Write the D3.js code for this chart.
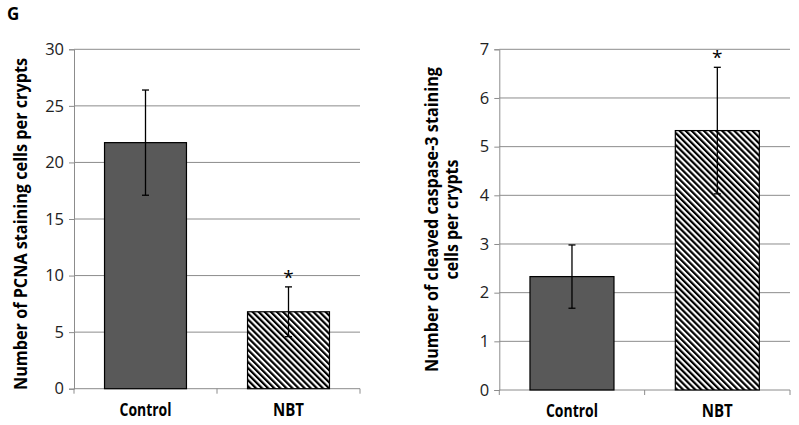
<!DOCTYPE html>
<meta charset="utf-8">
<style>
    body { margin: 0; background: #fff; }
    svg { font-family: "Open Sans", sans-serif; }
</style>
<svg width="799" height="425"></svg>
<script src="https://d3js.org/d3.v7.min.js"></script>

<script>
    // data
    var categories = ["Control", "NBT"];
    var pcnaMean = [21.75, 6.8];
    var pcnaErr = [4.65, 2.2];
    var pcnaTicks = [0, 5, 10, 15, 20, 25, 30];
    var caspMean = [2.33, 5.33];
    var caspErr = [0.65, 1.3];
    var caspTicks = [0, 1, 2, 3, 4, 5, 6, 7];
    var signif = [false, true];
</script>

<script>
    var svg = d3.select("svg");

    var defs = svg.append("defs");
    defs.append("pattern")
        .attr("id", "hatch")
        .attr("patternUnits", "userSpaceOnUse")
        .attr("width", 4.3)
        .attr("height", 4.3)
        .attr("patternTransform", "rotate(-45)")
        .call(function (p) {
            p.append("rect").attr("width", 4.3).attr("height", 4.3).attr("fill", "#fff");
            p.append("line").attr("x1", 1.1).attr("x2", 1.1).attr("y1", 0).attr("y2", 4.3)
                .attr("stroke", "#000").attr("stroke-width", 2.2);
        });

    svg.append("text")
        .attr("x", 7).attr("y", 20)
        .attr("font-size", 17).attr("font-weight", "bold")
        .text("G");

    function drawChart(opt) {
        var g = svg.append("g");
        var x = d3.scaleBand().domain(categories)
            .range([opt.x0, opt.x1]).paddingInner(opt.pad).paddingOuter(opt.pad / 2);
        var y = d3.scaleLinear().domain([0, d3.max(opt.ticks)]).range([opt.y0, opt.y1]);

        // gridlines
        g.selectAll(".grid").data(opt.ticks.slice(1)).enter().append("line")
            .attr("x1", opt.x0).attr("x2", opt.x1)
            .attr("y1", function (d) { return y(d); })
            .attr("y2", function (d) { return y(d); })
            .attr("stroke", "#8c8c8c").attr("stroke-width", 1);

        // y axis
        var yAxis = d3.axisLeft(y).tickValues(opt.ticks).tickFormat(d3.format("d"))
            .tickSize(5).tickPadding(5);
        var ya = g.append("g").attr("transform", "translate(" + opt.x0 + ",0)").call(yAxis);
        ya.select(".domain").attr("stroke", "#8c8c8c");
        ya.selectAll(".tick line").attr("stroke", "#8c8c8c");
        ya.selectAll(".tick text").attr("font-size", 16.5).attr("fill", "#222")
            .attr("font-family", "Open Sans, sans-serif");

        // x axis
        var xa = g.append("g").attr("transform", "translate(0," + opt.y0 + ")");
        xa.append("line").attr("x1", opt.x0).attr("x2", opt.x1)
            .attr("stroke", "#8c8c8c");
        var step = x.step();
        xa.selectAll(".xt").data(d3.range(categories.length + 1)).enter().append("line")
            .attr("x1", function (i) { return opt.x0 + i * step; })
            .attr("x2", function (i) { return opt.x0 + i * step; })
            .attr("y1", 0).attr("y2", 5)
            .attr("stroke", "#8c8c8c");
        xa.selectAll(".xl").data(categories).enter().append("text")
            .attr("x", function (d) { return x(d) + x.bandwidth() / 2; })
            .attr("y", 27)
            .attr("text-anchor", "middle")
            .attr("font-size", 17).attr("font-weight", "bold")
            .attr("textLength", function (d) { return d === "NBT" ? 31 : 52; })
            .attr("lengthAdjust", "spacingAndGlyphs")
            .text(function (d) { return d; });

        // bars
        g.selectAll(".bar").data(categories).enter().append("rect")
            .attr("x", function (d) { return x(d); })
            .attr("width", x.bandwidth())
            .attr("y", function (d, i) { return y(opt.mean[i]); })
            .attr("height", function (d, i) { return opt.y0 - y(opt.mean[i]); })
            .attr("fill", function (d, i) { return i === 0 ? "#595959" : "url(#hatch)"; })
            .attr("stroke", "#000").attr("stroke-width", 1.2);

        // error bars
        var eb = g.selectAll(".err").data(categories).enter().append("g")
            .attr("stroke", "#000").attr("stroke-width", 1.3);
        eb.append("line")
            .attr("x1", function (d) { return x(d) + x.bandwidth() / 2; })
            .attr("x2", function (d) { return x(d) + x.bandwidth() / 2; })
            .attr("y1", function (d, i) { return y(opt.mean[i] + opt.err[i]); })
            .attr("y2", function (d, i) { return y(opt.mean[i] - opt.err[i]); });
        [1, -1].forEach(function (s) {
            eb.append("line")
                .attr("x1", function (d) { return x(d) + x.bandwidth() / 2 - 3.5; })
                .attr("x2", function (d) { return x(d) + x.bandwidth() / 2 + 3.5; })
                .attr("y1", function (d, i) { return y(opt.mean[i] + s * opt.err[i]); })
                .attr("y2", function (d, i) { return y(opt.mean[i] + s * opt.err[i]); });
        });

        // significance
        g.selectAll(".star").data(categories.filter(function (d, i) { return signif[i]; }))
            .enter().append("text")
            .attr("x", function (d) { return x(d) + x.bandwidth() / 2; })
            .attr("y", function (d) {
                var i = categories.indexOf(d);
                return y(opt.mean[i] + opt.err[i]) - 3;
            })
            .attr("text-anchor", "middle")
            .attr("font-size", 19)
            .text("*");

        // y title
        var t = g.append("text")
            .attr("transform", "translate(" + opt.tx + "," + opt.ty + ") rotate(-90)")
            .attr("text-anchor", "middle")
            .attr("font-size", 18).attr("font-weight", "bold");
        opt.title.forEach(function (line, i) {
            t.append("tspan").attr("x", 0).attr("y", i * 20)
                .attr("textLength", opt.titleLen[i])
                .attr("lengthAdjust", "spacingAndGlyphs")
                .text(line);
        });
    }

    drawChart({
        x0: 74, x1: 360, y0: 388.7, y1: 49.3, pad: 0.427,
        ticks: pcnaTicks, mean: pcnaMean, err: pcnaErr,
        tx: 26.5, ty: 224, titleLen: [332],
        title: ["Number of PCNA staining cells per crypts"]
    });

    drawChart({
        x0: 499.3, x1: 790, y0: 390, y1: 49.3, pad: 0.422,
        ticks: caspTicks, mean: caspMean, err: caspErr,
        tx: 437.5, ty: 219.5, titleLen: [305, 120],
        title: ["Number of cleaved caspase-3 staining", "cells per crypts"]
    });
</script>
